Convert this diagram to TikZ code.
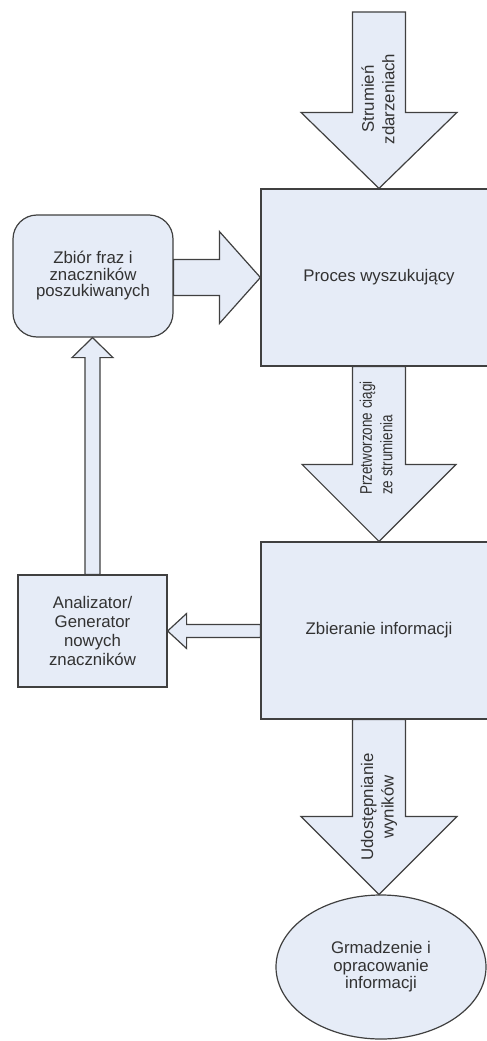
\documentclass[tikz,border=0pt]{standalone}
\usepackage{fontspec}
\usepackage{graphicx}
\setmainfont{Liberation Sans}
\usetikzlibrary{shapes.geometric,calc}

\definecolor{boxfill}{RGB}{230,236,247}
\definecolor{boxline}{RGB}{64,64,64}
\definecolor{txt}{RGB}{50,50,50}

% Block arrows: #1 tail, #2 tip, #3 shaft half width, #4 head half width, #5 head length (pt)
\newcommand\fatdown[5]{\draw[fatarrow] let \p1=(#1),\p2=(#2) in
  (\x1-#3pt,\y1) -- (\x1-#3pt,\y2+#5pt) -- (\x1-#4pt,\y2+#5pt) -- (\x1,\y2)
  -- (\x1+#4pt,\y2+#5pt) -- (\x1+#3pt,\y2+#5pt) -- (\x1+#3pt,\y1) -- cycle;}
\newcommand\fatup[5]{\draw[fatarrow] let \p1=(#1),\p2=(#2) in
  (\x1-#3pt,\y1) -- (\x1-#3pt,\y2-#5pt) -- (\x1-#4pt,\y2-#5pt) -- (\x1,\y2)
  -- (\x1+#4pt,\y2-#5pt) -- (\x1+#3pt,\y2-#5pt) -- (\x1+#3pt,\y1) -- cycle;}
\newcommand\fatright[5]{\draw[fatarrow] let \p1=(#1),\p2=(#2) in
  (\x1,\y2-#3pt) -- (\x2-#5pt,\y2-#3pt) -- (\x2-#5pt,\y2-#4pt) -- (\x2,\y2)
  -- (\x2-#5pt,\y2+#4pt) -- (\x2-#5pt,\y2+#3pt) -- (\x1,\y2+#3pt) -- cycle;}
\newcommand\fatleft[5]{\draw[fatarrow] let \p1=(#1),\p2=(#2) in
  (\x1,\y2-#3pt) -- (\x2+#5pt,\y2-#3pt) -- (\x2+#5pt,\y2-#4pt) -- (\x2,\y2)
  -- (\x2+#5pt,\y2+#4pt) -- (\x2+#5pt,\y2+#3pt) -- (\x1,\y2+#3pt) -- cycle;}

\tikzset{
  base/.style={draw=boxline, fill=boxfill, line width=1.2pt, text=txt,
    font=\fontsize{16.8}{19}\selectfont, inner sep=0pt, align=center},
  bigbox/.style={base, rectangle, minimum width=236pt, minimum height=177pt},
  fatarrow/.style={draw=boxline, fill=boxfill, line width=1.2pt, line join=miter},
  vlabel/.style={text=txt, rotate=90, inner sep=0pt,
    font=\fontsize{16.8}{20.5}\selectfont},
}

\begin{document}
\begin{tikzpicture}[x=1pt,y=-1pt]
  \useasboundingbox (0,0) rectangle (487,1041);
  \clip (0,0) rectangle (487,1041);

  % main process boxes (right edge runs past the page)
  \node[bigbox] (proc) at (379,277.5) {Proces wyszukujący};
  \node[bigbox] (zbier) at (379,630.5) {Zbieranie informacji};

  % side boxes
  \node[base, rectangle, rounded corners=24pt, minimum width=160pt,
        minimum height=122pt, font=\fontsize{16.8}{16.5}\selectfont]
        (zbior) at (93,276) {Zbiór fraz i\\znaczników\\poszukiwanych};
  \node[base, rectangle, minimum width=149pt, minimum height=112pt]
        (anal) at (92.5,631) {Analizator/\\Generator\\nowych\\znaczników};

  % result store
  \node[base, ellipse, minimum width=210pt, minimum height=144pt,
        font=\fontsize{16.8}{17.5}\selectfont]
        (grom) at (381,967) {Grmadzenie i\\opracowanie\\informacji};

  % incoming stream
  \coordinate (src) at (379,12);

  % block arrows
  \fatdown{src}{proc.north}{26.5}{78}{76}
  \fatdown{proc.south}{zbier.north}{26.5}{77}{77}
  \fatdown{zbier.south}{grom.north}{26.5}{78}{78}
  \fatright{zbior.east}{proc.west}{18}{46}{41}
  \fatleft{zbier.west}{anal.east}{6.5}{17.5}{19}
  \fatup{anal.north}{zbior.south}{7.5}{20.5}{20}

  % arrow labels
  \node[vlabel, align=center] (lstream) at (378,99) {Strumień\\zdarzeniach};
  \node[vlabel] (lproc) at (378,438)
        {\scalebox{0.8}[1]{\begin{tabular}{@{}l@{}}Przetworzone ciągi\\ze strumienia\end{tabular}}};
  \node[vlabel, align=center] (lshare) at (379,807) {Udostępnianie\\wyników};
\end{tikzpicture}
\end{document}
